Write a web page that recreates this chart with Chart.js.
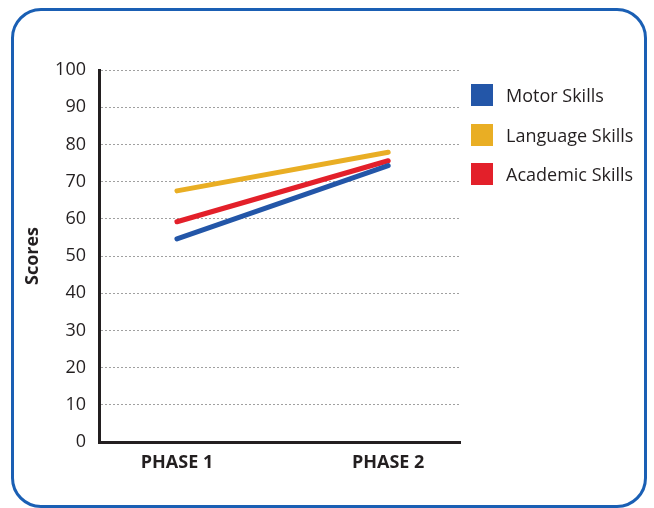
<!DOCTYPE html>
<html>
<head>
<meta charset="utf-8">
<script src="https://cdn.jsdelivr.net/npm/chart.js@4"></script>
<style>
  html, body { margin: 0; padding: 0; background: #fff; }
  #wrap { position: relative; width: 654px; height: 508px; overflow: hidden; }
  #frame {
    position: absolute; left: 11px; top: 8px; width: 630px; height: 494px;
    border: 3px solid #1a5fb4; border-radius: 30px;
  }
  #chart { position: absolute; left: 0; top: 0; }
  #legend { position: absolute; left: 471px; top: 84px; font-family: "Open Sans", sans-serif; font-size: 18px; color: #231f20; }
  #legend .row { display: flex; align-items: center; height: 22px; margin-bottom: 17.5px; }
  #legend .sw { width: 22px; height: 22px; margin-right: 13px; }
</style>
</head>
<body>
<div id="wrap">
  <div id="frame"></div>
  <canvas id="chart" width="654" height="508"></canvas>
  <div id="legend"></div>
</div>
<script>
const phases = ['PHASE 1', 'PHASE 2'];
const seriesNames = ['Motor Skills', 'Language Skills', 'Academic Skills'];
const seriesColors = ['#2356a8', '#e9ae24', '#e3202a'];
const motor = [54.6, 74.3];
const language = [67.5, 77.9];
const academic = [59.2, 75.6];
const yTicks = [0, 10, 20, 30, 40, 50, 60, 70, 80, 90, 100];

const values = [motor, language, academic];
const font = 'Open Sans, sans-serif';
const ink = '#231f20';

document.getElementById('legend').innerHTML = seriesNames.map((n, i) =>
  `<div class="row"><div class="sw" style="background:${seriesColors[i]}"></div>${n}</div>`).join('');

// draw in back-to-front order so red sits above blue, yellow on top like the original
const order = [0, 2, 1];
new Chart(document.getElementById('chart'), {
  type: 'line',
  data: {
    datasets: order.map(i => ({
      label: seriesNames[i],
      data: values[i].map((v, k) => ({ x: k + 1, y: v })),
      borderColor: seriesColors[i],
      borderWidth: 5,
      borderCapStyle: 'round',
      pointRadius: 0,
      fill: false,
    })),
  },
  options: {
    responsive: false,
    animation: false,
    layout: { padding: { left: 0, right: 194, top: 70, bottom: 0 } },
    plugins: { legend: { display: false }, tooltip: { enabled: false } },
    scales: {
      x: {
        type: 'linear', min: 0.631, max: 2.34,
        afterBuildTicks: s => { s.ticks = phases.map((_, i) => ({ value: i + 1 })); },
        afterFit: s => { s.height = 66; s.paddingLeft = 0; s.paddingRight = 0; },
        ticks: { callback: v => phases[v - 1], color: ink, font: { family: font, size: 18, weight: 'bold' }, padding: 10, maxRotation: 0 },
        grid: { display: false, drawTicks: false },
        border: { display: true, color: ink, width: 3 },
      },
      y: {
        min: 0, max: 100,
        afterBuildTicks: s => { s.ticks = yTicks.map(v => ({ value: v })); },
        afterFit: s => { s.width = 99; s.paddingTop = 0; s.paddingBottom = 0; },
        ticks: { color: ink, font: { family: font, size: 18 }, padding: 13 },
        grid: { color: '#a0a0a0', lineWidth: 1, drawTicks: false },
        border: { display: true, color: ink, width: 3, dash: [2, 2] },
        title: { display: true, text: 'Scores', color: ink, font: { family: font, size: 18, weight: 'bold' }, padding: { top: 22, bottom: 0 } },
      },
    },
  },
});
</script>
</body>
</html>
